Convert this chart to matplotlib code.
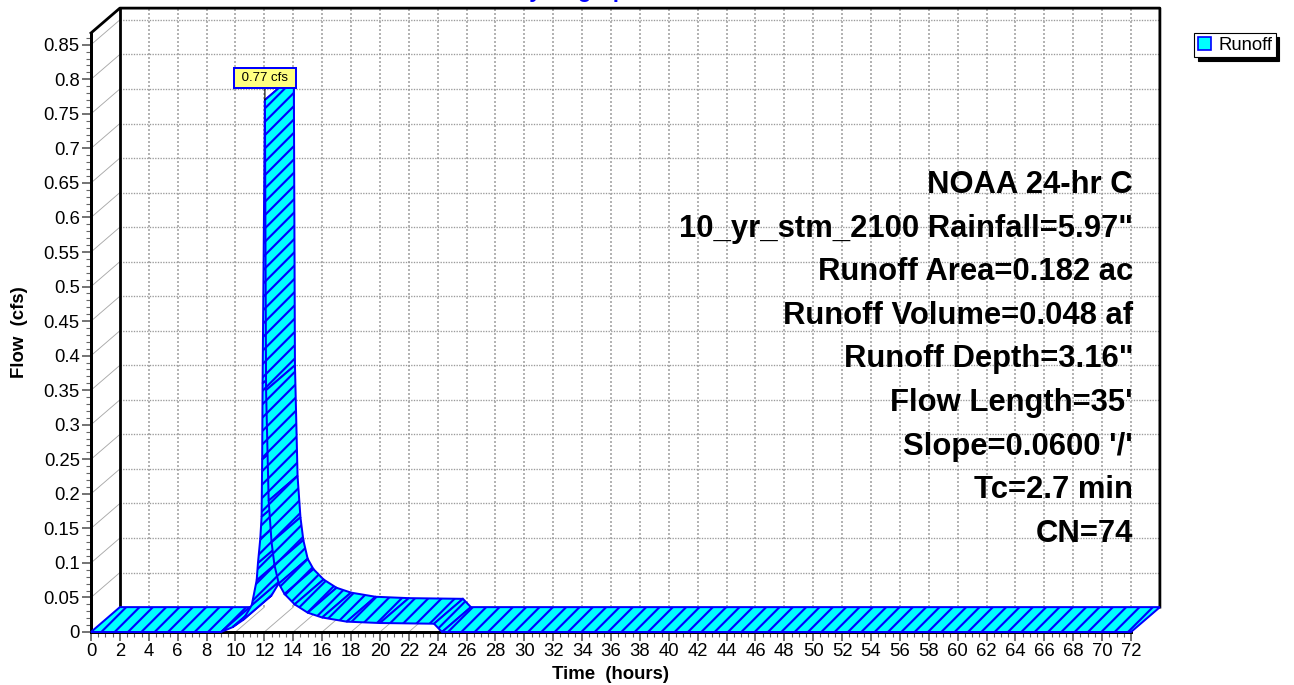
import matplotlib
matplotlib.use('Agg')
import matplotlib.pyplot as plt
from matplotlib.patches import Polygon, Patch
from matplotlib.ticker import MultipleLocator, FuncFormatter

plt.rcParams['font.family'] = ['Liberation Sans', 'DejaVu Sans']
plt.rcParams['hatch.linewidth'] = 1.9

# runoff hydrograph, hours / cfs
time_hr = [0, 9.0, 9.8, 10.5, 11.13, 11.47, 11.56, 11.72, 11.81, 11.85, 11.88, 12.04,
           12.12, 12.3, 12.5, 12.7, 13.0, 13.4, 14.1, 15.0, 16.0, 17.7, 20.0, 23.75, 24.3, 72]
flow_cfs = [0, 0, 0.007, 0.017, 0.039, 0.075, 0.10, 0.135, 0.167, 0.25, 0.36, 0.77,
            0.35, 0.19, 0.13, 0.097, 0.070, 0.055, 0.040, 0.028, 0.021, 0.015, 0.013, 0.012, 0.0, 0.0]
series_name = 'Runoff'
peak_label = '0.77 cfs'
info_lines = ['NOAA 24-hr C', '10_yr_stm_2100 Rainfall=5.97"', 'Runoff Area=0.182 ac',
              'Runoff Volume=0.048 af', 'Runoff Depth=3.16"', "Flow Length=35'",
              "Slope=0.0600 '/'", 'Tc=2.7 min', 'CN=74']
x_max = 72
y_max = 0.867
# fake 3d depth, in data units
depth_t = 2.0
depth_q = 0.036

DPI = 80
W, H = 1294, 685
PT = 72 / DPI   # px -> pt

fig = plt.figure(figsize=(W / DPI, H / DPI), dpi=DPI)
ax = fig.add_axes([91 / W, 53 / H, 1040 / W, 599 / H])
ax.set_xlim(0, x_max)
ax.set_ylim(0, y_max)

# back wall grid, left wall and floor lines
vgrid_kw = dict(color='#b4b4b4', lw=1.8, ls=(0, (1, 1)), clip_on=False, zorder=1)
hgrid_kw = dict(color='#9a9a9a', lw=1.2, ls=(0, (1, 1)), clip_on=False, zorder=1)
thin_kw = dict(color='#a8a8a8', lw=0.8, clip_on=False, zorder=1)
for t in range(2, x_max, 2):
    ax.plot([t + depth_t] * 2, [depth_q, y_max + depth_q], **vgrid_kw)
for k in range(1, 18):
    q = k * 0.05
    ax.plot([depth_t, x_max + depth_t], [q + depth_q] * 2, **hgrid_kw)
    ax.plot([0, depth_t], [q, q + depth_q], **thin_kw)
for t in range(2, x_max + 1, 2):
    ax.plot([t, t + depth_t], [0, depth_q], **thin_kw)

frame_kw = dict(color='black', lw=2.5, clip_on=False, zorder=2)
ax.plot([0, depth_t, x_max + depth_t, x_max + depth_t],
        [y_max, y_max + depth_q, y_max + depth_q, depth_q], **frame_kw)
ax.plot([depth_t, depth_t], [depth_q, y_max + depth_q], **frame_kw)

# ribbon, one quad per segment
for i in range(len(time_hr) - 1):
    t0, t1 = time_hr[i], time_hr[i + 1]
    q0, q1 = flow_cfs[i], flow_cfs[i + 1]
    quad = Polygon([(t0, q0), (t1, q1), (t1 + depth_t, q1 + depth_q), (t0 + depth_t, q0 + depth_q)],
                   closed=True, facecolor='cyan', edgecolor='blue', hatch='//',
                   lw=1.8, clip_on=False, zorder=3)
    ax.add_patch(quad)

# axes
for side in ['top', 'right']:
    ax.spines[side].set_visible(False)
for side in ['left', 'bottom']:
    ax.spines[side].set_linewidth(2.7)
ax.xaxis.set_major_locator(MultipleLocator(2))
ax.xaxis.set_minor_locator(MultipleLocator(0.5))
ax.yaxis.set_major_locator(MultipleLocator(0.05))
ax.yaxis.set_minor_locator(MultipleLocator(0.01))
ax.yaxis.set_major_formatter(FuncFormatter(lambda v, p: f'{v:g}'))
ax.tick_params(which='major', length=9 * PT, width=1.6, color='#666666', pad=2,
               labelsize=18.5 * PT)
ax.tick_params(which='minor', length=5 * PT, width=1.0, color='#666666')

ax.set_xlabel('Time  (hours)', fontsize=18.6 * PT, fontweight='bold')
ax.set_ylabel('Flow  (cfs)', fontsize=18.6 * PT, fontweight='bold')
ax.xaxis.set_label_coords(0.5, -0.057)
ax.yaxis.set_label_coords(-0.061, 0.5)

# info text
for k, line in enumerate(info_lines):
    ax.text((1133 - 91) / 1040, (632 - 185 - 43.6 * k) / 599, line, transform=ax.transAxes,
            ha='right', va='center', fontsize=31 * PT, fontweight='bold', zorder=4)

# peak label
i_peak = flow_cfs.index(max(flow_cfs))
ax.annotate(' ' + peak_label + ' ', xy=(time_hr[i_peak], flow_cfs[i_peak]),
            xytext=(0, 22 * PT), textcoords='offset points', ha='center', va='center',
            fontsize=13.3 * PT,
            bbox=dict(boxstyle='square,pad=0.3', fc='#ffff80', ec='blue', lw=1.8),
            arrowprops=dict(arrowstyle='-', color='black', lw=1, shrinkA=0, shrinkB=0),
            zorder=5, annotation_clip=False)

# title, mostly cut off at the top edge
fig.text(577 / W, 1 + 3 / H, 'Hydrograph', color='blue', fontweight='bold',
         fontsize=22.5 * PT, ha='center', va='baseline')

fig.legend(handles=[Patch(facecolor='cyan', edgecolor='blue', lw=1.5, label=series_name)],
           loc='upper left', bbox_to_anchor=(1194 / W, 1 - 33 / H), frameon=True,
           fancybox=False, shadow={'color': 'black', 'alpha': 1, 'ox': 3.2, 'oy': -3.2},
           edgecolor='black', framealpha=1, fontsize=18.5 * PT, handlelength=0.7,
           handleheight=0.7, handletextpad=0.4, borderpad=0.2, borderaxespad=0)

fig.savefig('out.png', dpi=DPI)
